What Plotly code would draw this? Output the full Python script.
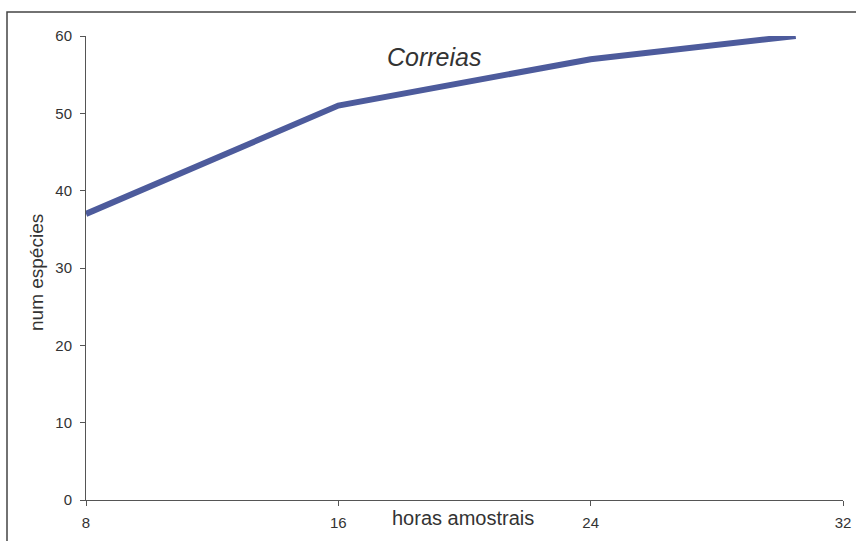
import plotly.graph_objects as go

horas = [8, 16, 24, 30.5]
especies = [37, 51, 57, 60]
x_ticks = [8, 16, 24, 32]
y_ticks = [0, 10, 20, 30, 40, 50, 60]

W, H = 856, 541
# plot area in pixels
PL, PR, PT, PB = 86, 843, 36, 500
# outer frame (left and top edges), pixel coordinates of the page
frame_x = [7, 7, 856]
frame_y = [541, 12, 12]


def fx(x):
    return x / W


def fy(y):
    return (H - y) / H


fig = go.Figure()
fig.add_trace(go.Scatter(x=horas, y=especies, mode="lines",
                         line=dict(color="#4d5b9c", width=6), showlegend=False,
                         hoverinfo="skip"))
fig.add_trace(go.Scatter(x=frame_x, y=frame_y, mode="lines", xaxis="x2", yaxis="y2",
                         line=dict(color="#444444", width=1.5), showlegend=False,
                         hoverinfo="skip"))

font = dict(family="Arial, Liberation Sans, sans-serif", color="#333333")

fig.update_layout(
    width=W, height=H,
    margin=dict(l=0, r=0, t=0, b=0, autoexpand=False),
    paper_bgcolor="white", plot_bgcolor="rgba(0,0,0,0)",
    font=font,
    xaxis=dict(domain=[fx(PL), fx(PR)], range=[8, 32], tickvals=x_ticks,
               showgrid=False, zeroline=False,
               showline=True, linecolor="#555555", linewidth=1,
               ticks="outside", ticklen=5, tickcolor="#555555",
               ticklabelstandoff=4,
               tickfont=dict(size=15, **font), fixedrange=True),
    yaxis=dict(domain=[fy(PB), fy(PT)], range=[0, 60], tickvals=y_ticks,
               showgrid=False, zeroline=False,
               showline=True, linecolor="#555555", linewidth=1,
               ticks="outside", ticklen=5, tickcolor="#555555",
               ticklabelstandoff=5,
               tickfont=dict(size=15, **font), fixedrange=True),
    xaxis2=dict(domain=[0, 1], range=[0, W], anchor="y2", visible=False, fixedrange=True),
    yaxis2=dict(domain=[0, 1], range=[H, 0], anchor="x2", visible=False, fixedrange=True),
    annotations=[
        dict(text="<i>Correias</i>", x=fx(434), y=fy(57), xref="paper", yref="paper",
             xanchor="center", yanchor="middle",
             showarrow=False, font=dict(size=25, **font)),
        dict(text="horas amostrais", x=fx(463), y=fy(518), xref="paper", yref="paper",
             xanchor="center", yanchor="middle",
             showarrow=False, font=dict(size=20, **font)),
        dict(text="num espécies", x=fx(36), y=fy(273), xref="paper", yref="paper",
             xanchor="center", yanchor="middle",
             showarrow=False, textangle=-90, font=dict(size=19, **font)),
    ],
)

fig.write_html("out.html", config={"displayModeBar": False},
               post_script="document.body.style.margin='0px';document.body.style.overflow='hidden';")
